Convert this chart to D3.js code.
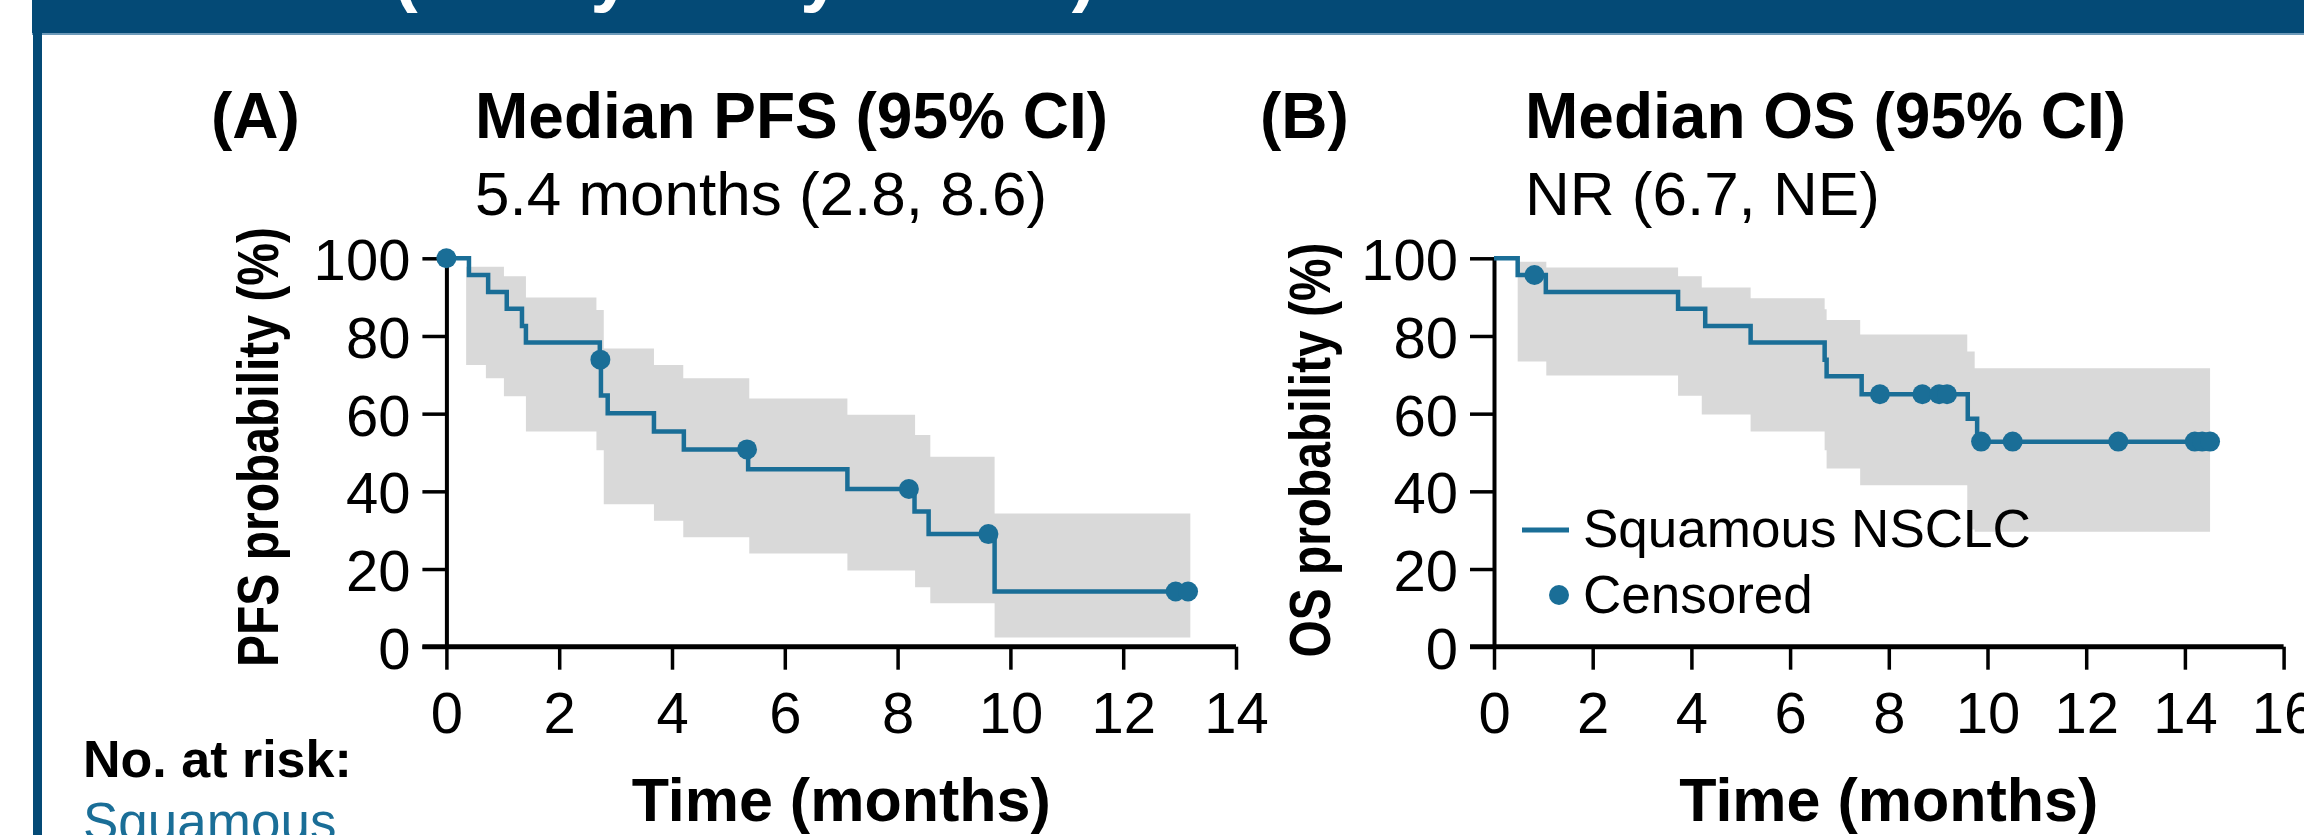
<!DOCTYPE html>
<html><head><meta charset="utf-8">
<script src="https://cdn.jsdelivr.net/npm/d3@7"></script>
<style>html,body{margin:0;padding:0;background:#fff;overflow:hidden;} svg{display:block;}</style>
</head><body><svg id="chart" width="2304" height="835"></svg>
<script>
// ---------------- DATA ----------------
const headerText = "(safety analysis set)";
const panelLabels = ["(A)", "(B)"];
const panelTitles = ["Median PFS (95% CI)", "Median OS (95% CI)"];
const panelSubtitles = ["5.4 months (2.8, 8.6)", "NR (6.7, NE)"];
const yTitles = ["PFS probability (%)", "OS probability (%)"];
const xTitle = "Time (months)";
const yTicks = [0, 20, 40, 60, 80, 100];
const pfsXTicks = [0, 2, 4, 6, 8, 10, 12, 14];
const osXTicks = [0, 2, 4, 6, 8, 10, 12, 14, 16];
const legendLabels = ["Squamous NSCLC", "Censored"];
const riskLabel = "No. at risk:";
const riskGroup = "Squamous";

// PFS Kaplan-Meier steps
const pfsTime = [0, 0.40, 0.74, 1.07, 1.34, 1.41, 2.72, 2.74, 2.86, 3.68, 4.21, 5.35, 7.11, 8.30, 8.55, 9.72, 13.15];
const pfsSurv = [100, 95.7, 91.3, 87.0, 82.6, 78.3, 73.9, 64.7, 60.1, 55.4, 50.8, 45.7, 40.6, 34.8, 29.0, 14.2, 14.2];
const pfsCensorTime = [0, 2.73, 5.33, 8.20, 9.61, 12.93, 13.15];
const pfsCensorSurv = [100, 73.9, 50.8, 40.6, 29.0, 14.2, 14.2];
// PFS 95% CI band
const pfsCiTime  = [0.35, 0.70, 1.02, 1.41, 2.66, 2.79, 3.68, 4.20, 5.37, 7.11, 8.31, 8.58, 9.72, 13.19];
const pfsCiUpper = [97.8, 97.8, 95.4, 89.9, 86.7, 76.8, 72.5, 69.1, 63.9, 59.7, 54.5, 48.9, 34.3, 34.3];
const pfsCiLower = [72.5, 69.1, 64.5, 55.4, 50.6, 36.7, 32.4, 28.2, 24.0, 19.6, 15.3, 11.2, 2.4, 2.4];

// OS Kaplan-Meier steps
const osTime = [0, 0.48, 1.05, 3.73, 4.28, 5.20, 6.70, 6.74, 7.45, 9.60, 9.79, 14.51];
const osSurv = [100, 95.7, 91.3, 87.0, 82.6, 78.3, 73.9, 69.6, 65.0, 58.7, 52.8, 52.8];
const osCensorTime = [0.82, 7.82, 8.68, 9.02, 9.18, 9.87, 10.51, 12.65, 14.20, 14.35, 14.51];
const osCensorSurv = [95.7, 65.0, 65.0, 65.0, 65.0, 52.8, 52.8, 52.8, 52.8, 52.8, 52.8];
// OS 95% CI band
const osCiTime  = [0.48, 1.06, 3.73, 4.21, 5.20, 6.70, 6.74, 7.42, 9.59, 9.74, 14.51];
const osCiUpper = [99.1, 97.6, 95.4, 92.5, 89.7, 86.9, 84.1, 80.4, 76.0, 71.7, 71.7];
const osCiLower = [73.4, 69.8, 64.6, 59.8, 55.4, 50.6, 45.9, 41.6, 30.2, 29.6, 29.6];

// ---------------- STYLE ----------------
const FONT = "'Liberation Sans', Arial, Helvetica, sans-serif";
const NAVY = "#044a76";
const CURVE = "#1a6e97";
const BAND = "#d9d9d9";

const svg = d3.select("#chart");
svg.append("rect").attr("width", 2304).attr("height", 835).attr("fill", "#fff");

// header band + frame
svg.append("rect").attr("x", 32).attr("y", 0).attr("width", 2272).attr("height", 33).attr("fill", NAVY);
svg.append("line").attr("x1", 32).attr("x2", 2304).attr("y1", 34).attr("y2", 34)
  .attr("stroke", "#3c78a2").attr("stroke-width", 1.5);
svg.append("rect").attr("x", 33).attr("y", 0).attr("width", 9).attr("height", 835).attr("fill", NAVY);
svg.append("text").attr("x", 393).attr("y", -2).text(headerText)
  .attr("font-family", FONT).attr("font-weight", "bold").attr("font-size", 74).attr("fill", "#fff");

function zip(t, s) { return t.map((d, i) => ({ t: d, s: s[i] })); }
function zipCi(t, lo, hi) { return t.map((d, i) => ({ t: d, lo: lo[i], hi: hi[i] })); }

function drawPanel(cfg) {
  const x = d3.scaleLinear().domain(cfg.xDomain).range(cfg.xRange);
  const y = d3.scaleLinear().domain([0, 100]).range([646.7, 258.3]);
  const g = svg.append("g");

  // titles
  g.append("text").attr("x", cfg.labelX).attr("y", 138).text(cfg.label)
    .attr("font-family", FONT).attr("font-weight", "bold").attr("font-size", 64);
  g.append("text").attr("x", cfg.titleX).attr("y", 138).text(cfg.title)
    .attr("font-family", FONT).attr("font-weight", "bold").attr("font-size", 64);
  g.append("text").attr("x", cfg.titleX).attr("y", 215).text(cfg.subtitle)
    .attr("font-family", FONT).attr("font-size", 62);

  // CI band
  const area = d3.area().x(d => x(d.t)).y0(d => y(d.lo)).y1(d => y(d.hi)).curve(d3.curveStepAfter);
  g.append("path").datum(cfg.ci).attr("d", area).attr("fill", BAND);

  // axes
  const yAxis = d3.axisLeft(y).tickValues(yTicks).tickSize(24).tickSizeOuter(0).tickPadding(12);
  const ya = g.append("g").attr("transform", `translate(${x(0)},0)`).call(yAxis);
  ya.select(".domain").attr("stroke-width", 4).attr("stroke", "#000");
  ya.selectAll(".tick line").attr("stroke-width", 3.5).attr("stroke", "#000");
  ya.selectAll(".tick text").attr("font-family", FONT).attr("font-size", 58).attr("fill", "#000").attr("dy", "0.37em");

  const xAxis = d3.axisBottom(x).tickValues(cfg.xTicks).tickSize(23).tickSizeOuter(0).tickPadding(22);
  const xa = g.append("g").attr("transform", `translate(0,${y(0)})`).call(xAxis);
  xa.select(".domain").attr("stroke-width", 5).attr("stroke", "#000")
    .attr("d", `M${x(0) - 24},0H${x(cfg.xDomain[1])}`);
  xa.selectAll(".tick line").attr("stroke-width", 3.5).attr("stroke", "#000");
  xa.selectAll(".tick text").attr("font-family", FONT).attr("font-size", 58).attr("fill", "#000");

  // axis titles
  g.append("text").attr("x", d3.mean(cfg.xRange)).attr("y", 821).attr("text-anchor", "middle").text(xTitle)
    .attr("font-family", FONT).attr("font-weight", "bold").attr("font-size", 61);
  g.append("text").attr("transform", `translate(${cfg.yTitleX},${cfg.yTitleY}) rotate(-90)`)
    .attr("text-anchor", "middle").text(cfg.yTitle)
    .attr("font-family", FONT).attr("font-weight", "bold").attr("font-size", 57)
    .attr("textLength", cfg.yTitleLen).attr("lengthAdjust", "spacingAndGlyphs");

  // KM curve
  const line = d3.line().x(d => x(d.t)).y(d => y(d.s)).curve(d3.curveStepAfter);
  g.append("path").datum(cfg.steps).attr("d", line).attr("fill", "none")
    .attr("stroke", CURVE).attr("stroke-width", 4.5);

  g.selectAll("circle.cens").data(cfg.censors).join("circle").attr("class", "cens")
    .attr("cx", d => x(d.t)).attr("cy", d => y(d.s)).attr("r", 10).attr("fill", CURVE);
  return { x, y, g };
}

drawPanel({
  xDomain: [0, 14], xRange: [446.4, 1236], xTicks: pfsXTicks,
  label: panelLabels[0], labelX: 211, title: panelTitles[0], titleX: 475, subtitle: panelSubtitles[0],
  yTitle: yTitles[0], yTitleX: 278, yTitleY: 447, yTitleLen: 440,
  steps: zip(pfsTime, pfsSurv), censors: zip(pfsCensorTime, pfsCensorSurv),
  ci: zipCi(pfsCiTime, pfsCiLower, pfsCiUpper)
});

drawPanel({
  xDomain: [0, 16], xRange: [1494, 2283.6], xTicks: osXTicks,
  label: panelLabels[1], labelX: 1260, title: panelTitles[1], titleX: 1525, subtitle: panelSubtitles[1],
  yTitle: yTitles[1], yTitleX: 1330, yTitleY: 450, yTitleLen: 415,
  steps: zip(osTime, osSurv), censors: zip(osCensorTime, osCensorSurv),
  ci: zipCi(osCiTime, osCiLower, osCiUpper)
});

// legend
const lg = svg.append("g");
lg.append("line").attr("x1", 1522).attr("x2", 1569).attr("y1", 530).attr("y2", 530)
  .attr("stroke", CURVE).attr("stroke-width", 5);
lg.append("text").attr("x", 1583).attr("y", 547).text(legendLabels[0])
  .attr("font-family", FONT).attr("font-size", 53);
lg.append("circle").attr("cx", 1559).attr("cy", 595).attr("r", 10).attr("fill", CURVE);
lg.append("text").attr("x", 1583).attr("y", 613).text(legendLabels[1])
  .attr("font-family", FONT).attr("font-size", 53);

// number at risk header
svg.append("text").attr("x", 83).attr("y", 777).text(riskLabel)
  .attr("font-family", FONT).attr("font-weight", "bold").attr("font-size", 52);
svg.append("text").attr("x", 83).attr("y", 840).text(riskGroup)
  .attr("font-family", FONT).attr("font-size", 53).attr("fill", CURVE);
</script></body></html>
